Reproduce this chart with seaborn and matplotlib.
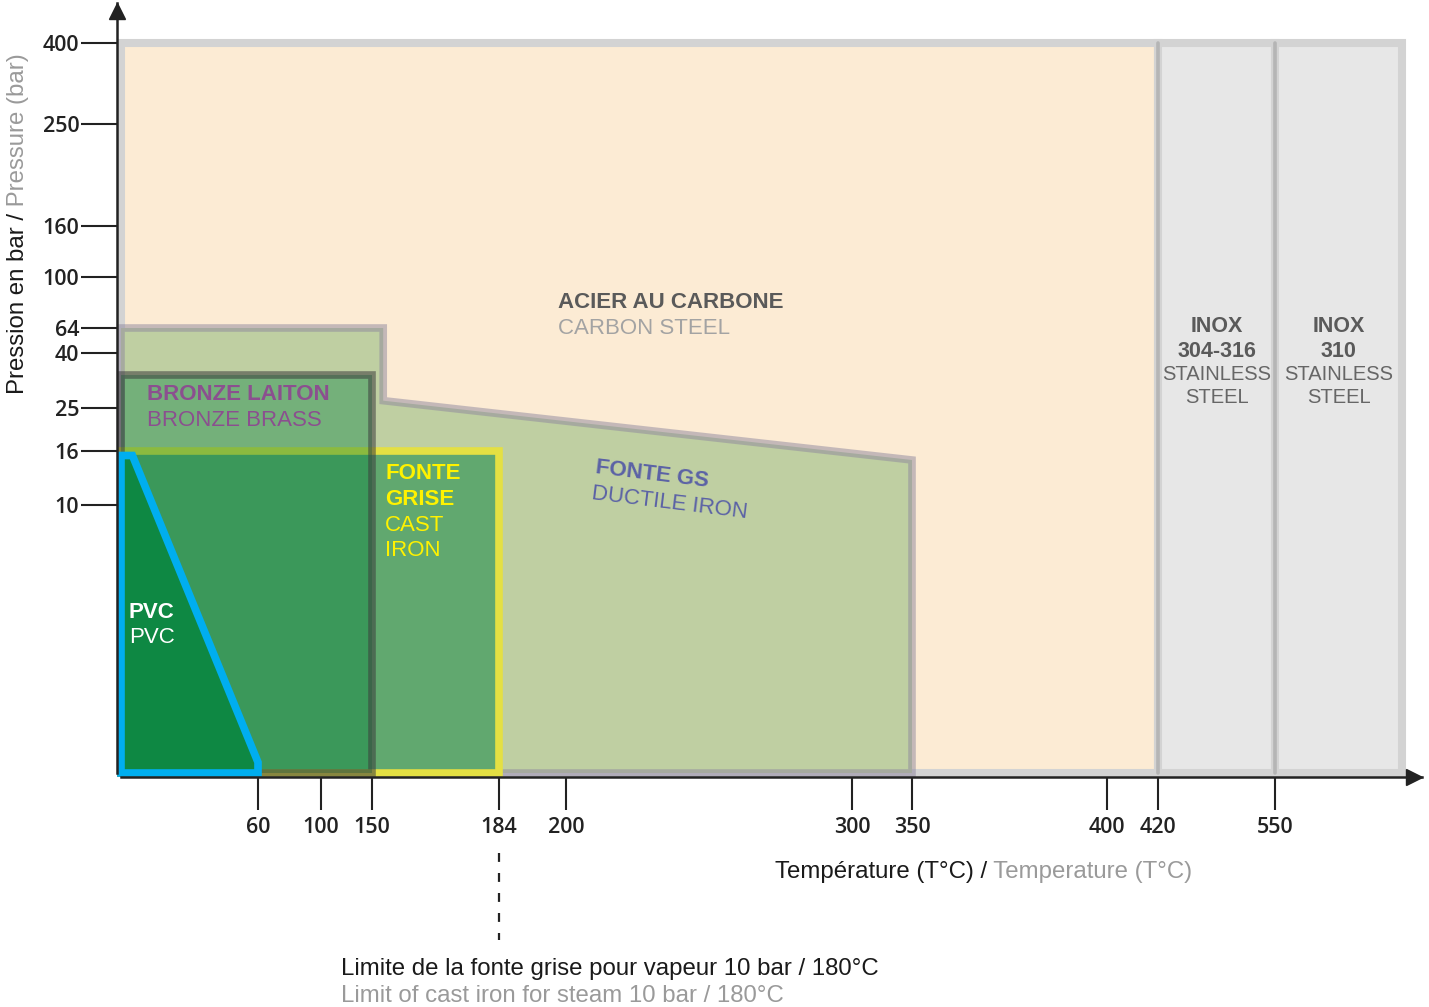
import numpy as np
import matplotlib
matplotlib.use('Agg')
import matplotlib.pyplot as plt
import matplotlib.transforms as mtransforms
import seaborn as sns

# -------------------------------
# Data (temperature in °C, pressure in bar)
# -------------------------------
x_ticks = [60, 100, 150, 184, 200, 300, 350, 400, 420, 550]
y_ticks = [10, 16, 25, 40, 64, 100, 160, 250, 400]

carbon_x = [0, 0, 420, 420]
carbon_y = [0, 400, 400, 0]
inox304_x = [420, 420, 550, 550]
inox304_y = [0, 400, 400, 0]
inox310_x = [550, 550, 650, 650]
inox310_y = [0, 400, 400, 0]
gs_x = [0, 0, 153, 153, 350, 350]
gs_y = [0, 64, 64, 27, 15, 0]
bronze_x = [0, 0, 150, 150]
bronze_y = [0, 34, 34, 0]
fg_x = [0, 0, 184, 184]
fg_y = [0, 16, 16, 0]
pvc_x = [0, 0, 5, 60, 60]
pvc_y = [0, 15.5, 15.5, 0.4, 0]
steam_limit_x = 184

# -------------------------------
# Non-linear (schematic) axes: piecewise scale
# -------------------------------
xb_val = [0, 60, 100, 150, 184, 200, 300, 350, 400, 420, 550, 650, 700]
xb_pos = [0, 137, 200, 251, 378, 445, 731, 791, 986, 1037, 1154, 1281, 1301]
yb_val = [0, 10, 16, 25, 40, 64, 100, 160, 250, 400, 450]
yb_pos = [0, 268, 322, 365, 420, 445, 496, 547, 649, 730, 770]


def fx(v):
    return np.interp(v, xb_val, xb_pos)


def ifx(p):
    return np.interp(p, xb_pos, xb_val)


def fy(v):
    return np.interp(v, yb_val, yb_pos)


def ify(p):
    return np.interp(p, yb_pos, yb_val)


sns.set_theme(style='white')
plt.rcParams['font.family'] = ['Liberation Sans', 'DejaVu Sans']

W, H = 1429, 1007
fig = plt.figure(figsize=(W / 100, H / 100), dpi=100)
ax = fig.add_axes([121 / W, (H - 773) / H, (1422 - 121) / W, (773 - 3) / H])
ax.set_xscale('function', functions=(fx, ifx))
ax.set_yscale('function', functions=(fy, ify))
ax.set_xlim(0, 700)
ax.set_ylim(0, 450)

# regions
kw = dict(clip_on=False, joinstyle='miter')
ax.fill(carbon_x, carbon_y, fc='#fcebd4', ec='#d3d3d3', lw=5.8, zorder=1, **kw)
ax.fill(inox304_x, inox304_y, fc='#e7e7e7', ec='#d3d3d3', lw=5.8, zorder=1, **kw)
ax.fill(inox310_x, inox310_y, fc='#e7e7e7', ec='#d3d3d3', lw=5.8, zorder=1, **kw)
for xv in [inox304_x[0], inox310_x[0]]:
    ax.plot([xv, xv], [0, 400], color='#b5b5b5', lw=2.6, zorder=1.1, clip_on=False)

ax.fill(gs_x, gs_y, fc='#bfcfa2', ec=(142 / 255, 135 / 255, 158 / 255, 0.5), lw=5.5, zorder=2, **kw)
ax.fill(fg_x, fg_y, fc=(0, 129 / 255, 59 / 255, 0.49), ec='#e4e043', lw=5.5, zorder=3, **kw)
ax.fill(bronze_x, bronze_y, fc=(0, 128 / 255, 59 / 255, 0.39), ec=(60 / 255, 60 / 255, 60 / 255, 0.55),
        lw=5.5, zorder=4, **kw)
ax.fill(pvc_x, pvc_y, fc='#0e8843', ec='#00aeef', lw=5.5, zorder=5, **kw)

# region labels
t = dict(zorder=10, va='center_baseline', fontsize=16)
ax.text(198, 84, 'ACIER AU CARBONE', color='#5a5a5a', weight='bold', **t)
ax.text(198, 65.4, 'CARBON STEEL', color='#a3a3a3', **t)
ax.text(11.4, 29.4, 'BRONZE LAITON', color='#8b4f8f', weight='bold', **t)
ax.text(11.4, 22.9, 'BRONZE BRASS', color='#8b4f8f', **t)
ax.text(153.5, 13.8, 'FONTE', color='#fff200', weight='bold', **t)
ax.text(153.5, 10.9, 'GRISE', color='#fff200', weight='bold', **t)
ax.text(153.5, 9.33, 'CAST', color='#fff200', **t)
ax.text(153.5, 8.4, 'IRON', color='#fff200', **t)
ax.text(210.5, 14.4, 'FONTE GS', color='#5b62a6', weight='bold', rotation=-7,
        rotation_mode='anchor', **t)
ax.text(209, 11.5, 'DUCTILE IRON', color='#5b62a6', rotation=-7, rotation_mode='anchor', **t)
ax.text(3.5, 6.08, 'PVC', color='white', weight='bold', **t)
ax.text(3.5, 5.15, 'PVC', color='white', **t)
ti = dict(zorder=10, va='center_baseline', ha='center')
for xc, grade in [(485, '304-316'), (600, '310')]:
    ax.text(xc, 66.8, 'INOX', color='#5a5a5a', weight='bold', fontsize=15.5, **ti)
    ax.text(xc, 43.8, grade, color='#5a5a5a', weight='bold', fontsize=15.5, **ti)
    ax.text(xc, 34.8, 'STAINLESS', color='#666666', fontsize=14.5, **ti)
    ax.text(xc, 28.3, 'STEEL', color='#666666', fontsize=14.5, **ti)

# axes, ticks, arrows
sns.despine(ax=ax, offset=3)
for s in ['left', 'bottom']:
    ax.spines[s].set_color('#222222')
    ax.spines[s].set_linewidth(1.8)
    ax.spines[s].set_zorder(6)
ax.set_xticks(x_ticks, labels=[str(v) for v in x_ticks])
ax.set_yticks(y_ticks, labels=[str(v) for v in y_ticks])
ax.minorticks_off()
ax.tick_params(axis='x', direction='out', length=24, width=1.5, color='#222222', pad=5,
               labelsize=15.5, labelcolor='#222222', bottom=True)
ax.tick_params(axis='y', direction='out', length=26, width=1.5, color='#222222', pad=1,
               labelsize=15.5, labelcolor='#222222', left=True)
for lab in ax.get_xticklabels() + ax.get_yticklabels():
    lab.set_family(['Open Sans', 'DejaVu Sans'])
    lab.set_weight('semibold')
ax.grid(False)

off = mtransforms.ScaledTranslation(-6 / 72, -3 / 72, fig.dpi_scale_trans)
ax.plot(1, 0, marker='>', ms=12, color='#222222', transform=ax.transAxes + off, clip_on=False, zorder=7)
off = mtransforms.ScaledTranslation(-3 / 72, -6 / 72, fig.dpi_scale_trans)
ax.plot(0, 1, marker='^', ms=12, color='#222222', transform=ax.transAxes + off, clip_on=False, zorder=7)

# steam limit dashed line
ax.plot([steam_limit_x, steam_limit_x], [-0.104, -0.217], transform=ax.get_xaxis_transform(),
        color='#222222', lw=1.6, ls=(0, (4, 5)), clip_on=False)

# axis titles in two colours
fs = 17.3
fig.text(18 / W, 1 - 213 / H, 'Pression en bar /', rotation=90, ha='center', va='top',
         fontsize=fs, color='#1a1a1a')
fig.text(18 / W, 1 - 213 / H, ' Pressure (bar)', rotation=90, ha='center', va='bottom',
         fontsize=fs, color='#9a9a9a')
fig.text(987 / W, 1 - 872 / H, 'Température (T°C) /', ha='right', va='center',
         fontsize=fs, color='#1a1a1a')
fig.text(987 / W, 1 - 872 / H, ' Temperature (T°C)', ha='left', va='center',
         fontsize=fs, color='#9a9a9a')
fig.text(341 / W, 1 - 969 / H, 'Limite de la fonte grise pour vapeur 10 bar / 180°C',
         ha='left', va='center', fontsize=fs, color='#1a1a1a')
fig.text(341 / W, 1 - 996 / H, 'Limit of cast iron for steam 10 bar / 180°C',
         ha='left', va='center', fontsize=fs, color='#9a9a9a')

fig.savefig('out.png', dpi=100)
